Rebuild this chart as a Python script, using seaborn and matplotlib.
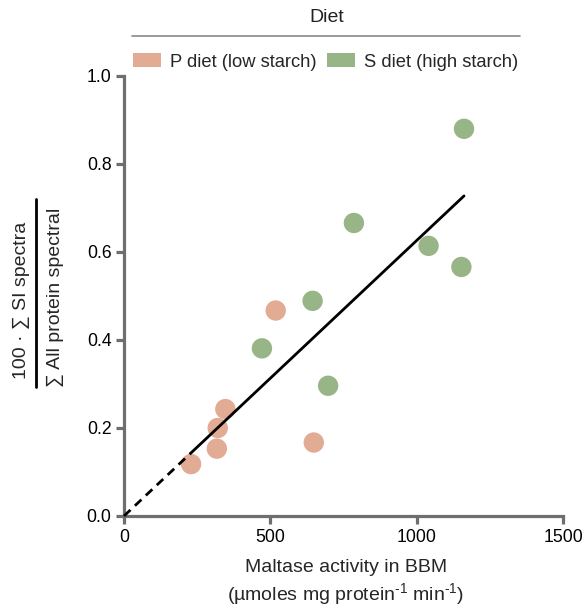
import numpy as np
import pandas as pd
import matplotlib
matplotlib.use("Agg")
import matplotlib.pyplot as plt
from matplotlib.patches import Patch
from matplotlib.lines import Line2D
import seaborn as sns

# ---- data ----
p_maltase = [229, 317, 320, 346, 518, 648]
p_si = [0.118, 0.153, 0.200, 0.243, 0.467, 0.167]
s_maltase = [471, 644, 697, 785, 1040, 1152, 1161]
s_si = [0.381, 0.489, 0.296, 0.666, 0.614, 0.566, 0.880]
diet_labels = ["P diet (low starch)", "S diet (high starch)"]
x_ticks = [0, 500, 1000, 1500]
y_ticks = [0.0, 0.2, 0.4, 0.6, 0.8, 1.0]

colors = {"P diet (low starch)": "#E2AB93", "S diet (high starch)": "#98B588"}

df = pd.DataFrame({
    "maltase": p_maltase + s_maltase,
    "si": p_si + s_si,
    "diet": [diet_labels[0]] * len(p_maltase) + [diet_labels[1]] * len(s_maltase),
})

sns.set_style("white")
plt.rcParams["font.family"] = ["Liberation Sans", "DejaVu Sans"]
plt.rcParams["mathtext.fontset"] = "custom"
plt.rcParams["mathtext.rm"] = "Liberation Sans"
plt.rcParams["mathtext.it"] = "Liberation Sans:italic"
plt.rcParams["mathtext.default"] = "regular"

W, H = 583, 607
fig = plt.figure(figsize=(W / 100, H / 100), dpi=100)
ax = fig.add_axes([124 / W, 1 - 516 / H, (563.3 - 124) / W, (516 - 76) / H])

sns.scatterplot(data=df, x="maltase", y="si", hue="diet", palette=colors,
                s=215, linewidth=0, alpha=1, legend=False, ax=ax, clip_on=False, zorder=3)

# regression through origin
x = np.array(df["maltase"], dtype=float)
y = np.array(df["si"], dtype=float)
slope = np.sum(x * y) / np.sum(x * x)
xmin, xmax = x.min(), x.max()
ax.plot([xmin, xmax], [slope * xmin, slope * xmax], color="black", lw=2.0, zorder=4)
ax.plot([0, xmin], [0, slope * xmin], color="black", lw=2.0, ls=(0, (3.2, 2.2)), zorder=4, clip_on=False)

ax.set_xlim(0, 1500)
ax.set_ylim(0, 1.0)
ax.set_xticks(x_ticks)
ax.set_yticks(y_ticks)
ax.set_xticklabels([str(t) for t in x_ticks])
ax.set_yticklabels([f"{t:.1f}" for t in y_ticks])
ax.set_xlabel("")
ax.set_ylabel("")

spine_col = "#6E6E6E"
for side in ["top", "right"]:
    ax.spines[side].set_visible(False)
for side in ["left", "bottom"]:
    ax.spines[side].set_color(spine_col)
    ax.spines[side].set_linewidth(2.3)
ax.tick_params(axis="both", which="major", direction="out", length=6, width=2.3,
               color=spine_col, labelsize=12.7, labelcolor="black", pad=3)
ax.tick_params(left=True, bottom=True)

# x label (two lines)
cx = (124 + 563.3) / 2 / W
fig.text(cx + 2 / W, 1 - 567 / H, "Maltase activity in BBM", ha="center", va="center", fontsize=14)
fig.text(cx + 2 / W, 1 - 594 / H, r"(µmoles mg protein$^{\text{-1}}$ min$^{\text{-1}}$)",
         ha="center", va="center", fontsize=14)

# y label as a fraction
fig.text(21.5 / W, 1 - 300.5 / H, "100 · ∑ SI spectra", rotation=90, ha="center", va="center", fontsize=14)
fig.text(55 / W, 1 - 297.5 / H, "∑ All protein spectral", rotation=90, ha="center", va="center", fontsize=14)
fig.add_artist(Line2D([35.5 / W, 35.5 / W], [1 - 199 / H, 1 - 387 / H], color="black", lw=2.0,
                      transform=fig.transFigure))

# legend
fig.text(326.5 / W, 1 - 18 / H, "Diet", ha="center", va="center", fontsize=14, color="#222222")
fig.add_artist(Line2D([132 / W, 519.5 / W], [1 - 36 / H, 1 - 36 / H], color="#8A8A8A", lw=1.2,
                      transform=fig.transFigure))
handles = [Patch(facecolor=colors[l], edgecolor="none", label=l) for l in diet_labels]
fig.legend(handles=handles, ncol=2, loc="center", bbox_to_anchor=(325.5 / W, 1 - 62 / H),
           bbox_transform=fig.transFigure, frameon=False, fontsize=13.2,
           handlelength=1.53, handleheight=0.77, handletextpad=0.49, columnspacing=0.55,
           borderpad=0, borderaxespad=0)

fig.savefig("out.png", dpi=100)
